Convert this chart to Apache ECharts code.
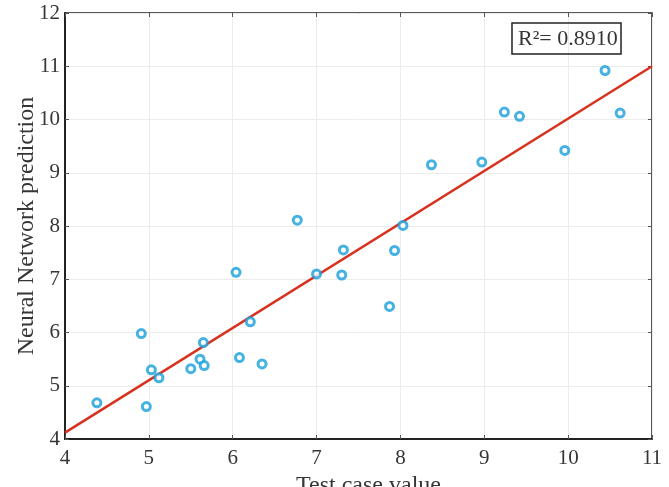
<!DOCTYPE html>
<html>
<head>
<meta charset="utf-8">
<script src="https://cdn.jsdelivr.net/npm/echarts@6/dist/echarts.min.js"></script>
<style>
html, body { margin: 0; padding: 0; background: #fff; }
#main { width: 669px; height: 487px; }
</style>
</head>
<body>
<div id="main"></div>
<script>
// test case value vs neural network prediction
var testValues = [4.38, 4.97, 4.91, 5.03, 5.12, 5.50, 5.61, 5.66, 5.65, 6.04, 6.08, 6.21, 6.35, 6.77,
                  7.00, 7.32, 7.30, 7.87, 7.93, 8.03, 8.37, 8.97, 9.24, 9.42, 9.96, 10.44, 10.62];
var predictions = [4.68, 4.61, 5.98, 5.30, 5.15, 5.32, 5.50, 5.38, 5.81, 7.13, 5.53, 6.20, 5.41, 8.11,
                   7.10, 7.55, 7.08, 6.49, 7.54, 8.01, 9.15, 9.20, 10.14, 10.06, 9.42, 10.92, 10.12];
// fitted line end points
var fitX = [4, 11];
var fitY = [4.12, 11.0];
var r2Label = 'R\u00b2= 0.8910';

var serif = '"Liberation Serif", "DejaVu Serif", serif';
var txt = '#363636';

var points = testValues.map(function (v, i) { return [v, predictions[i]]; });
var fitLine = fitX.map(function (v, i) { return [v, fitY[i]]; });

var option = {
    backgroundColor: '#fff',
    animation: false,
    title: {
        text: r2Label,
        left: 512,
        top: 23,
        padding: [5, 4, 4, 6],
        borderColor: '#222',
        borderWidth: 1.5,
        textStyle: { fontFamily: serif, fontSize: 22, fontWeight: 'normal', color: txt }
    },
    grid: {
        left: 65, right: 17, top: 13, bottom: 48,
        outerBoundsMode: 'none',
        show: true, borderColor: '#222', borderWidth: 1.5
    },
    xAxis: [
        {
            type: 'value', min: 4, max: 11, interval: 1,
            name: 'Test case value', nameLocation: 'middle', nameGap: 27,
            nameTextStyle: { fontFamily: serif, fontSize: 24, color: txt, padding: [0, 0, 0, 20] },
            axisLine: { show: true, lineStyle: { color: '#222', width: 2 } },
            axisTick: { show: true, inside: true, length: 4, lineStyle: { color: '#555' } },
            axisLabel: { fontFamily: serif, fontSize: 21, color: txt, margin: 9 },
            splitLine: { show: true, lineStyle: { color: '#ececec', width: 1 } }
        },
        {
            type: 'value', min: 4, max: 11, interval: 1, position: 'top',
            axisLine: { show: false },
            axisTick: { show: true, inside: true, length: 4, lineStyle: { color: '#555' } },
            axisLabel: { show: false }, splitLine: { show: false }
        }
    ],
    yAxis: [
        {
            type: 'value', min: 4, max: 12, interval: 1,
            axisLine: { show: true, lineStyle: { color: '#222', width: 2 } },
            axisTick: { show: true, inside: true, length: 4, lineStyle: { color: '#555' } },
            axisLabel: { fontFamily: serif, fontSize: 21, color: txt, margin: 5 },
            splitLine: { show: true, lineStyle: { color: '#ececec', width: 1 } }
        },
        {
            type: 'value', min: 4, max: 12, interval: 1, position: 'right',
            axisLine: { show: false },
            axisTick: { show: true, inside: true, length: 4, lineStyle: { color: '#555' } },
            axisLabel: { show: false }, splitLine: { show: false }
        }
    ],
    graphic: [
        {
            type: 'text',
            x: 15, y: 226,
            rotation: Math.PI / 2,
            style: {
                text: 'Neural Network prediction',
                font: '24px ' + serif,
                fill: txt,
                textAlign: 'center',
                textVerticalAlign: 'top'
            }
        }
    ],
    series: [
        {
            name: 'fit',
            type: 'line',
            data: fitLine,
            symbol: 'none',
            lineStyle: { color: '#d8321e', width: 2.5 },
            z: 2
        },
        {
            name: 'prediction',
            type: 'scatter',
            data: points,
            symbol: 'circle',
            symbolSize: 8,
            itemStyle: { color: '#ffffff', borderColor: '#179fdb', borderWidth: 3 },
            z: 3
        }
    ]
};

var myChart = echarts.init(document.getElementById('main'));
myChart.setOption(option);
</script>
</body>
</html>
